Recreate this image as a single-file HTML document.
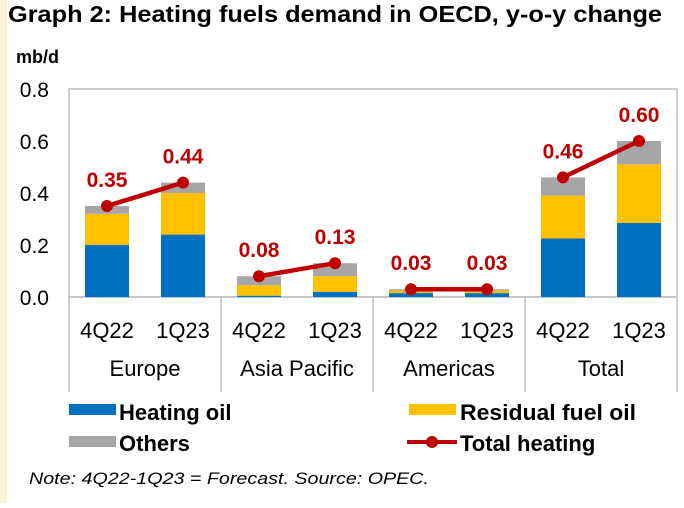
<!DOCTYPE html>
<html><head><meta charset="utf-8"><style>
body{margin:0;width:684px;height:503px;background:#fff;overflow:hidden;font-family:"Liberation Sans",sans-serif;}
</style></head><body>
<svg width="684" height="503" xmlns="http://www.w3.org/2000/svg">
<rect x="0" y="0" width="7" height="503" fill="#fdf1d6"/>
<text x="8" y="22" font-size="23" font-weight="bold" fill="#000" textLength="654" lengthAdjust="spacingAndGlyphs">Graph 2: Heating fuels demand in OECD, y-o-y change</text>
<text x="16" y="63" font-size="18" font-weight="bold">mb/d</text>
<g id="plot"></g>
<g font-size="22" font-weight="bold">
<rect x="69" y="404" width="47" height="11" fill="#0070c0"/>
<text x="119" y="420">Heating oil</text>
<rect x="409" y="404" width="47" height="11" fill="#ffc000"/>
<text x="460" y="420" textLength="176" lengthAdjust="spacingAndGlyphs">Residual fuel oil</text>
<rect x="69" y="436" width="47" height="11" fill="#a6a6a6"/>
<text x="119" y="451">Others</text>
<line x1="407" y1="442" x2="457" y2="442" stroke="#c00000" stroke-width="4"/>
<circle cx="432" cy="442" r="6" fill="#c00000"/>
<text x="460" y="451">Total heating</text>
</g>
<text x="29" y="484" font-size="17" font-style="italic" textLength="400" lengthAdjust="spacingAndGlyphs">Note: 4Q22-1Q23 = Forecast. Source: OPEC.</text>
</svg>
<script>
const regions=["Europe","Asia Pacific","Americas","Total"];
const periods=["4Q22","1Q23"];
const heating=[0.20,0.24,0.005,0.02,0.015,0.015,0.225,0.285];
const residual=[0.12,0.16,0.04,0.06,0.01,0.01,0.165,0.225];
const others=[0.03,0.04,0.035,0.05,0.005,0.005,0.07,0.09];
const total=[0.35,0.44,0.08,0.13,0.03,0.03,0.46,0.60];
const totalLabels=["0.35","0.44","0.08","0.13","0.03","0.03","0.46","0.60"];
const yTicks=[0,0.2,0.4,0.6,0.8];
const yTickLabels=["0.0","0.2","0.4","0.6","0.8"];

const NS="http://www.w3.org/2000/svg";
const g=document.getElementById('plot');
const L=69,R=677,T=89,B=297,gw=(R-L)/4,bw=44;
const y=v=>B-(v/0.8)*(B-T);
const xc=i=>L+gw*Math.floor(i/2)+gw*(i%2?0.75:0.25);
function mk(tag,attrs){const e=document.createElementNS(NS,tag);for(const k in attrs)e.setAttribute(k,attrs[k]);g.appendChild(e);return e;}
let e;
e=mk('rect',{x:L,y:T,width:R-L,height:B-T,fill:'none',stroke:'#bfbfbf','stroke-width':1.5});


yTicks.forEach((t,i)=>{e=mk('text',{x:49,y:y(t)+8,'font-size':21,'text-anchor':'end'});e.textContent=yTickLabels[i];

});
for(let k=0;k<=4;k++){e=mk('line',{x1:L+gw*k,y1:B,x2:L+gw*k,y2:392,stroke:'#bfbfbf','stroke-width':1.5});

}
e=mk('line',{x1:L,y1:B,x2:R,y2:B,stroke:'#bfbfbf','stroke-width':1.5});


const cols=['#0070c0','#ffc000','#a6a6a6'],series=[heating,residual,others],names=['heating-oil','residual','others'];
for(let i=0;i<8;i++){let base=0;
series.forEach((s,j)=>{e=mk('rect',{x:xc(i)-bw/2,y:y(base+s[i]),width:bw,height:y(base)-y(base+s[i]),fill:cols[j]});

base+=s[i];});
e=mk('text',{x:xc(i),y:338,'font-size':22,'text-anchor':'middle'});e.textContent=periods[i%2];

}
regions.forEach((r,k)=>{e=mk('text',{x:L+gw*(k+0.5),y:376,'font-size':22,'text-anchor':'middle'});e.textContent=r;

});
for(let k=0;k<4;k++){const a=2*k,b=2*k+1;
e=mk('line',{x1:xc(a),y1:y(total[a]),x2:xc(b),y2:y(total[b]),stroke:'#c00000','stroke-width':4.5});

}
for(let i=0;i<8;i++){e=mk('circle',{cx:xc(i),cy:y(total[i]),r:6,fill:'#c00000'});


e=mk('text',{x:xc(i),y:y(total[i])-19,'font-size':21,'font-weight':'bold',fill:'#c00000','text-anchor':'middle'});e.textContent=totalLabels[i];

}
</script>
</body></html>
